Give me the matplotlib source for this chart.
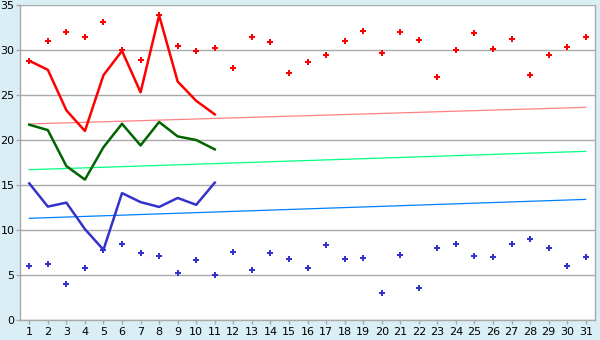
import numpy as np
import matplotlib
matplotlib.use('Agg')
import matplotlib.pyplot as plt

# dagen van de maand
days = list(range(1, 32))
line_days = list(range(1, 12))

# rode punten (max)
red_pts = [28.8, 31.0, 32.0, 31.5, 33.1, 30.0, 28.85, 33.85, 30.4, 29.85, 30.2,
           27.96, 31.4, 30.85, 27.5, 28.7, 29.5, 30.96, 32.07, 29.7, 32.0,
           31.07, 26.96, 29.96, 31.85, 30.07, 31.18, 27.18, 29.5, 30.3, 31.5]
# blauwe punten (min)
blue_pts = [5.96, 6.18, 3.96, 5.74, 7.8, 8.5, 7.4, 7.07, 5.18, 6.63, 4.96,
            7.52, 5.52, 7.4, 6.74, 5.74, 8.3, 6.74, 6.85, 2.96, 7.18,
            3.52, 7.96, 8.5, 7.07, 6.96, 8.5, 8.96, 7.96, 5.96, 6.96]

# lijnen dag 1-11
red_line = [28.8, 27.8, 23.3, 21.0, 27.2, 29.9, 25.3, 33.85, 26.5, 24.35, 22.85]
green_line = [21.7, 21.1, 17.1, 15.6, 19.2, 21.8, 19.4, 22.0, 20.4, 20.0, 18.96]
blue_line = [15.18, 12.6, 13.04, 10.1, 7.8, 14.1, 13.1, 12.56, 13.56, 12.8, 15.26]

# trendlijnen: waarde op dag 1 en dag 31
trend_days = [1, 31]
trend_red = [21.78, 23.63]
trend_green = [16.7, 18.74]
trend_blue = [11.3, 13.4]

bg = '#D9EEF5'
grid = '#A9A9A9'

fig = plt.figure(figsize=(6, 3.4), dpi=100, facecolor=bg)
ax = fig.add_axes([20/600, 20/340, 575/600, 315/340])
ax.set_facecolor('white')

ax.plot(trend_days, trend_red, color='#FF8080', lw=0.9, zorder=2)
ax.plot(trend_days, trend_green, color='#00FF80', lw=0.9, zorder=2)
ax.plot(trend_days, trend_blue, color='#0080FF', lw=0.9, zorder=2)

ax.plot(line_days, red_line, color='#FF0000', lw=1.8, zorder=3)
ax.plot(line_days, green_line, color='#006400', lw=1.8, zorder=3)
ax.plot(line_days, blue_line, color='#3333CC', lw=1.8, zorder=3)

ax.plot(days, red_pts, ls='none', marker='P', ms=4.5, color='#FF0000', mew=0, zorder=4)
ax.plot(days, blue_pts, ls='none', marker='P', ms=4.5, color='#3333CC', mew=0, zorder=4)

ax.set_xlim(0.5, 31.5)
ax.set_ylim(0, 35)
ax.set_xticks(days)
ax.set_yticks(range(0, 36, 5))
ax.yaxis.grid(True, color=grid, lw=1)
ax.set_axisbelow(True)
for s in ['left', 'bottom', 'right']:
    ax.spines[s].set_color(grid)
    ax.spines[s].set_linewidth(1)
ax.spines['top'].set_visible(False)
ax.tick_params(axis='both', colors='black', labelsize=8, length=3, width=1)
ax.tick_params(axis='both', color=grid)
ax.tick_params(axis='x', pad=2)
ax.tick_params(axis='y', pad=1)

fig.savefig('out.png', dpi=100, facecolor=bg)
